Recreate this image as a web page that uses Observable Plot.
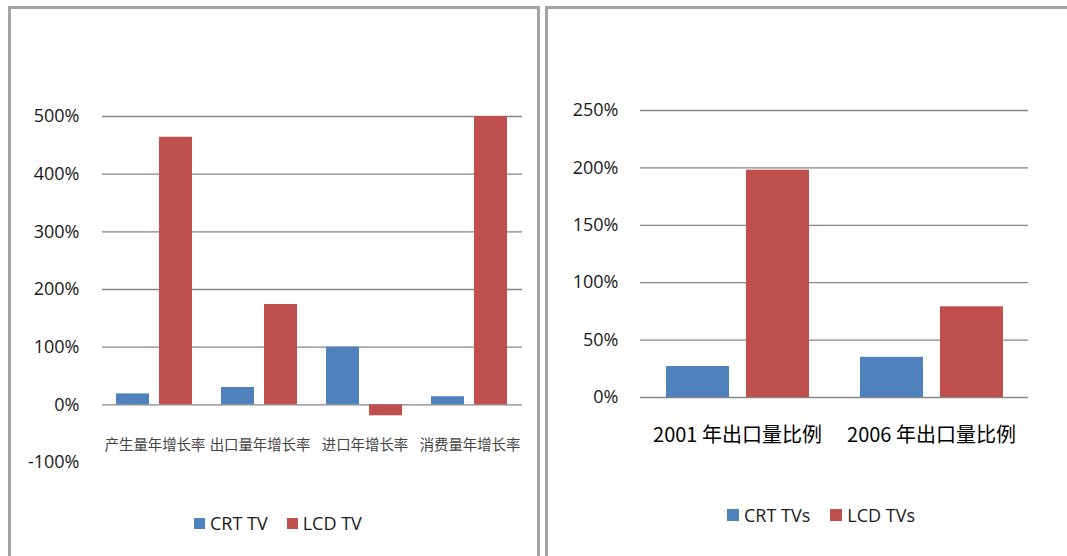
<!DOCTYPE html>
<html>
<head>
<meta charset="utf-8">
<script src="https://cdn.jsdelivr.net/npm/d3@7"></script>
<script src="https://cdn.jsdelivr.net/npm/@observablehq/plot@0.6"></script>
<style>
  html, body { margin: 0; padding: 0; background: #fff; }
  #page { position: relative; width: 1067px; height: 556px; overflow: hidden; background: #fff; font-family: "Open Sans", sans-serif; }
  .chart { position: absolute; top: 0; z-index: 1; }
  .panel { position: absolute; top: 6px; z-index: 2; pointer-events: none; border-color: #a3a3a3; border-style: solid; }
  .legend { position: absolute; z-index: 3; display: flex; align-items: center; color: #1a1a1a; white-space: nowrap; }
  .legend .sw { display: inline-block; }
</style>
</head>
<body>
<div id="page">
  <div id="leftChart" class="chart" style="left:0px;"></div>
  <div id="rightChart" class="chart" style="left:545px;"></div>
  <div class="panel" style="left:8px; width:526px; height:600px; border-width:3px 3px 0 3px;"></div>
  <div class="panel" style="left:545px; width:600px; height:600px; border-width:3px 0 0 3px;"></div>
  <div id="leftLegend" class="legend" style="left:194px; top:511px; font-size:18px;"></div>
  <div id="rightLegend" class="legend" style="left:727px; top:503px; font-size:18px;"></div>
</div>
<script>
// ---- Data ----
const leftCategories = ["产生量年增长率", "出口量年增长率", "进口年增长率", "消费量年增长率"];
const leftSeries = ["CRT TV", "LCD TV"];
const leftCRT = [19, 30, 100, 14];
const leftLCD = [464, 174, -19, 500];
const leftTicks = [-100, 0, 100, 200, 300, 400, 500];
const leftGrid = [0, 100, 200, 300, 400, 500];

const rightCategories = ["2001 年出口量比例", "2006 年出口量比例"];
const rightSeries = ["CRT TVs", "LCD TVs"];
const rightCRT = [27, 35];
const rightLCD = [198, 79];
const rightTicks = [0, 50, 100, 150, 200, 250];

const seriesColors = ["#4F81BD", "#C0504D"];

function rowsFrom(categories, series, a, b) {
  const rows = [];
  categories.forEach((c, i) => {
    rows.push({category: c, series: series[0], value: a[i]});
    rows.push({category: c, series: series[1], value: b[i]});
  });
  return rows;
}

const pct = d => d + "%";

// ---- Left chart ----
const leftRows = rowsFrom(leftCategories, leftSeries, leftCRT, leftLCD);
const leftPlot = Plot.plot({
  width: 540,
  height: 480,
  marginLeft: 101,
  marginRight: 18,
  marginTop: 116,
  marginBottom: 18,
  style: {background: "transparent", fontFamily: "Open Sans", fontSize: "18px", overflow: "visible"},
  fx: {domain: leftCategories, padding: 0, axis: null},
  x: {domain: leftSeries, paddingInner: 0.227, paddingOuter: 0.31, axis: null},
  y: {domain: [-100, 500]},
  color: {domain: leftSeries, range: seriesColors},
  marks: [
    Plot.gridY(leftGrid, {stroke: "#868686", strokeOpacity: 1, strokeWidth: 1.3}),
    Plot.barY(leftRows, {fx: "category", x: "series", y: "value", fill: "series"}),
    Plot.axisY({ticks: leftTicks, tickSize: 0, tickPadding: 23, tickFormat: pct, label: null, fill: "#1a1a1a", fontSize: 18}),
    Plot.text(leftCategories, {fx: d => d, text: d => d, frameAnchor: "bottom", dy: -17, lineAnchor: "middle",
      fontFamily: "Noto Sans CJK SC", fontSize: 14.4, fill: "#444"})
  ]
});
document.getElementById("leftChart").appendChild(leftPlot);

// ---- Right chart ----
const rightRows = rowsFrom(rightCategories, rightSeries, rightCRT, rightLCD);
const rightPlot = Plot.plot({
  width: 522,
  height: 420,
  marginLeft: 94,
  marginRight: 39,
  marginTop: 110,
  marginBottom: 23,
  style: {background: "transparent", fontFamily: "Open Sans", fontSize: "18px", overflow: "visible"},
  fx: {domain: rightCategories, padding: 0, axis: null},
  x: {domain: rightSeries, paddingInner: 0.213, paddingOuter: 0.305, axis: null},
  y: {domain: [0, 250]},
  color: {domain: rightSeries, range: seriesColors},
  marks: [
    Plot.gridY(rightTicks, {stroke: "#868686", strokeOpacity: 1, strokeWidth: 1.3}),
    Plot.barY(rightRows, {fx: "category", x: "series", y: "value", fill: "series"}),
    Plot.axisY({ticks: rightTicks, tickSize: 0, tickPadding: 22, tickFormat: pct, label: null, fill: "#1a1a1a", fontSize: 18}),
    Plot.text(rightCategories, {fx: d => d, text: d => d, frameAnchor: "bottom", dy: 38.5, lineAnchor: "middle",
      fontFamily: "Noto Sans CJK SC", fontSize: 20, fill: "#000"})
  ]
});
document.getElementById("rightChart").appendChild(rightPlot);

// ---- Legends ----
function buildLegend(el, series, size, gap) {
  series.forEach((s, i) => {
    const sw = document.createElement("span");
    sw.className = "sw";
    sw.style.width = size + "px";
    sw.style.height = size + "px";
    sw.style.background = seriesColors[i];
    sw.style.marginRight = "5px";
    if (i > 0) sw.style.marginLeft = gap + "px";
    const t = document.createElement("span");
    t.textContent = s;
    el.appendChild(sw);
    el.appendChild(t);
  });
}
buildLegend(document.getElementById("leftLegend"), leftSeries, 11, 19);
buildLegend(document.getElementById("rightLegend"), rightSeries, 12, 20);
</script>
</body>
</html>
